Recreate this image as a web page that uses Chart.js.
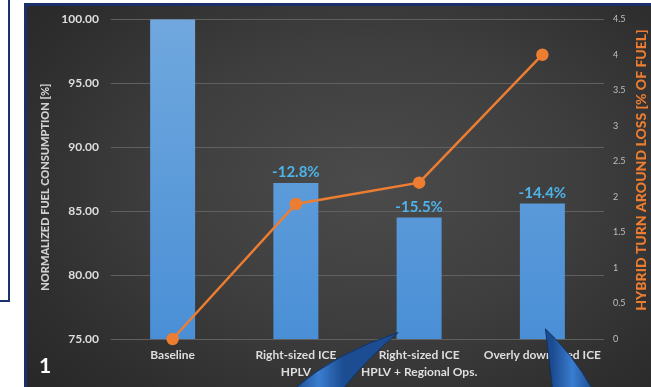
<!DOCTYPE html>
<html>
<head>
<meta charset="utf-8">
<script src="https://cdn.jsdelivr.net/npm/chart.js@4.4.1/dist/chart.umd.min.js"></script>
<style>
  html, body { margin: 0; padding: 0; background: #fff; overflow: hidden; }
  body { width: 651px; height: 387px; position: relative; font-family: Lato, "Open Sans", sans-serif; }
  #sideBox {
    position: absolute; left: -100px; top: -10px; width: 106px; height: 308px;
    border: 2px solid #1c3270;
  }
  #panel {
    position: absolute; left: 24px; top: 3px; width: 660px; height: 420px;
    border: 3px solid #1b2f6a;
    background: radial-gradient(ellipse 70% 75% at 52% 42%, #4b4b4b 0%, #3e3e3e 45%, #2e2e2e 80%, #272727 100%);
  }
  #slideNo {
    position: absolute; left: 39px; top: 352px; color: #fff;
    font: bold 21px Lato, sans-serif;
  }
  #chart { position: absolute; left: 0; top: 0; }
</style>
</head>
<body>
<div id="sideBox"></div>
<div id="panel"></div>
<canvas id="chart" width="651" height="387"></canvas>
<div id="slideNo">1</div>
<script>
const categories = [
    ["Baseline"],
    ["Right-sized ICE", "HPLV"],
    ["Right-sized ICE", "HPLV + Regional Ops."],
    ["Overly downsized ICE"]
];
const fuelConsumption = [100, 87.2, 84.5, 85.6];   // normalized, baseline = 100
const turnAroundLoss = [0, 1.9, 2.2, 4.0];          // % of fuel
const leftTicks = [75, 80, 85, 90, 95, 100];
const rightTicks = [0, 0.5, 1, 1.5, 2, 2.5, 3, 3.5, 4, 4.5];
const leftTitle = 'NORMALIZED FUEL CONSUMPTION [%]';
const rightTitle = 'HYBRID TURN AROUND LOSS [% OF FUEL]';

const labelFont = "Lato, 'Open Sans', sans-serif";

// percentage change written above each non-baseline bar
const barLabels = {
    id: 'barLabels',
    afterDatasetsDraw(chart) {
        const ctx = chart.ctx;
        const meta = chart.getDatasetMeta(1);
        ctx.save();
        ctx.font = "bold 15px " + labelFont;
        ctx.fillStyle = '#4db3ea';
        ctx.textAlign = 'center';
        ctx.textBaseline = 'bottom';
        meta.data.forEach((bar, i) => {
            if (i === 0) return;
            const change = fuelConsumption[i] - fuelConsumption[0];
            ctx.fillText(change.toFixed(1) + '%', bar.x, bar.y - 3);
        });
        ctx.restore();
    }
};

// both axis titles read bottom-to-top
const axisTitles = {
    id: 'axisTitles',
    afterDraw(chart) {
        const ctx = chart.ctx;
        const area = chart.chartArea;
        const mid = (area.top + area.bottom) / 2;
        const put = (text, x, y, color, size) => {
            ctx.save();
            ctx.translate(x, y);
            ctx.rotate(-Math.PI / 2);
            ctx.font = '900 ' + size + 'px ' + labelFont;
            ctx.fillStyle = color;
            ctx.textAlign = 'center';
            ctx.textBaseline = 'middle';
            ctx.fillText(text, 0, 0);
            ctx.restore();
        };
        put(leftTitle, 45, mid + 8, '#d0d0d0', 11);
        put(rightTitle, chart.width - 10, mid - 9, '#ed7d31', 14);
    }
};

// blue speech-bubble tails pointing at the last two bars
const callouts = {
    id: 'callouts',
    afterDraw(chart) {
        const ctx = chart.ctx;
        const x = chart.scales.x, y = chart.scales.y;
        const h = chart.height;

        const tail = (tip, a, b, ctrlA, ctrlB) => {
            const g = ctx.createLinearGradient(a[0], 0, b[0], 0);
            g.addColorStop(0, '#1b4b90');
            g.addColorStop(0.5, '#3a7dcf');
            g.addColorStop(1, '#1c4d92');
            ctx.beginPath();
            ctx.moveTo(tip[0], tip[1]);
            ctx.quadraticCurveTo(ctrlA[0], ctrlA[1], a[0], a[1]);
            ctx.lineTo(b[0], b[1]);
            ctx.quadraticCurveTo(ctrlB[0], ctrlB[1], tip[0], tip[1]);
            ctx.closePath();
            ctx.fillStyle = g;
            ctx.fill();
            ctx.strokeStyle = 'rgba(18,48,96,0.9)';
            ctx.lineWidth = 1;
            ctx.stroke();
        };

        ctx.save();
        const t1 = [x.getPixelForValue(2) - 21, y.getPixelForValue(75.5)];
        tail(t1, [t1[0] - 104, h + 2], [t1[0] - 55, h + 2],
             [t1[0] - 62, t1[1] + 20], [t1[0] - 33, t1[1] + 28]);
        const t2 = [x.getPixelForValue(3) + 3, y.getPixelForValue(75.8)];
        tail(t2, [t2[0] + 7, h + 2], [t2[0] + 47, h + 2],
             [t2[0] + 4, t2[1] + 30], [t2[0] + 27, t2[1] + 25]);
        ctx.restore();
    }
};

const ctx = document.getElementById('chart').getContext('2d');

new Chart(ctx, {
    type: 'bar',
    data: {
        labels: categories,
        datasets: [
            {
                type: 'line',
                label: 'Hybrid turn around loss',
                data: turnAroundLoss,
                yAxisID: 'y1',
                borderColor: '#ed7d31',
                backgroundColor: '#ed7d31',
                borderWidth: 2.5,
                pointRadius: 5,
                pointHoverRadius: 5,
                tension: 0,
                clip: false,
                order: 0
            },
            {
                label: 'Normalized fuel consumption',
                data: fuelConsumption,
                yAxisID: 'y',
                backgroundColor(c) {
                    const area = c.chart.chartArea;
                    if (!area) return '#5b9bd5';
                    const g = c.chart.ctx.createLinearGradient(0, area.top, 0, area.bottom);
                    g.addColorStop(0, '#70a8de');
                    g.addColorStop(1, '#4a8fd6');
                    return g;
                },
                borderWidth: 0,
                barPercentage: 0.5,
                categoryPercentage: 0.73,
                order: 1
            }
        ]
    },
    options: {
        responsive: false,
        animation: false,
        layout: { padding: { top: 19, left: 0, right: 0, bottom: 0 } },
        plugins: {
            legend: { display: false },
            tooltip: { enabled: false }
        },
        scales: {
            x: {
                grid: { display: false, drawTicks: false },
                border: { display: false },
                ticks: {
                    color: '#dedede',
                    font: { family: labelFont, size: 12, weight: 'bold', lineHeight: 1.4 },
                    padding: 8,
                    maxRotation: 0,
                    autoSkip: false
                },
                afterFit(scale) { scale.height = 48; }
            },
            y: {
                position: 'left',
                min: 75,
                max: 100,
                afterBuildTicks(scale) { scale.ticks = leftTicks.map(v => ({ value: v })); },
                grid: { color: '#606060', lineWidth: 1, drawTicks: false },
                border: { display: false },
                ticks: {
                    color: '#dedede',
                    font: { family: labelFont, size: 12, weight: 'bold' },
                    padding: 12,
                    callback: v => Number(v).toFixed(2)
                },
                afterFit(scale) { scale.width = 111; }
            },
            y1: {
                position: 'right',
                min: 0,
                max: 4.5,
                afterBuildTicks(scale) { scale.ticks = rightTicks.map(v => ({ value: v })); },
                grid: { display: false, drawTicks: false },
                border: { display: false },
                ticks: {
                    color: '#bfbfbf',
                    font: { family: labelFont, size: 9 },
                    padding: 9,
                    callback: v => String(v)
                },
                afterFit(scale) { scale.width = 47; }
            }
        }
    },
    plugins: [barLabels, axisTitles, callouts]
});
</script>
</body>
</html>
